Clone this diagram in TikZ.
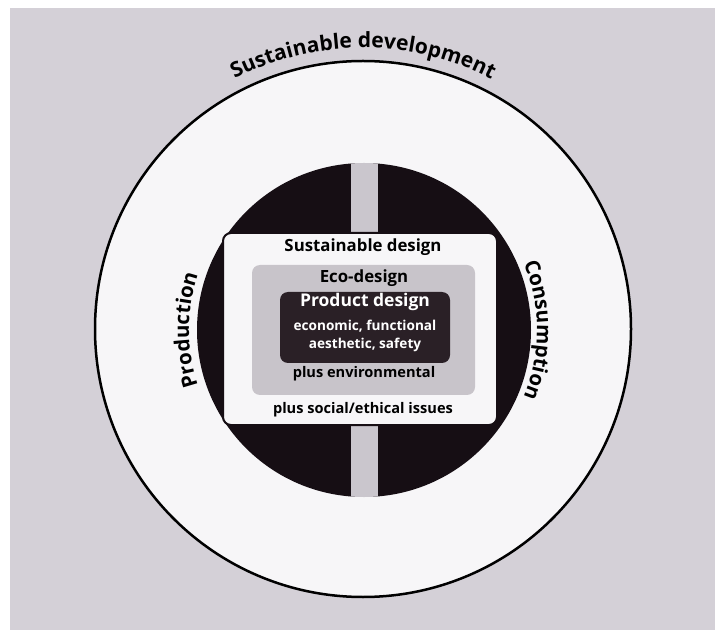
\documentclass[tikz,border=0pt]{standalone}
\usepackage{fontspec}
\setmainfont{Open Sans}
\usetikzlibrary{decorations.text}
\definecolor{pagegrey}{RGB}{212,208,215}
\definecolor{paper}{RGB}{247,246,248}
\definecolor{diskblack}{RGB}{22,14,20}
\definecolor{stripegrey}{RGB}{202,198,205}
\definecolor{ecogrey}{RGB}{200,196,202}
\definecolor{proddark}{RGB}{42,32,38}
\tikzset{
  layerbox/.style={rectangle, rounded corners=8pt, inner sep=0pt},
  lbl/.style={font=\bfseries\fontsize{16.8}{18}\selectfont, inner sep=0pt},
  smalllbl/.style={font=\bfseries\fontsize{14.6}{16}\selectfont, inner sep=0pt},
  whitelbl/.style={text=white, font=\bfseries\fontsize{13.6}{15}\selectfont, inner sep=0pt},
  ringtext/.style={decorate, decoration={text along path, text align=center}}
}
\begin{document}
\begin{tikzpicture}[x=1pt,y=1pt]
\useasboundingbox (0,0) rectangle (715,630);
\fill[white] (0,0) rectangle (715,630);
\fill[pagegrey] (10,0) rectangle (715,622);
\coordinate (C) at (363,301);
\coordinate (D) at (364,300);
\node[circle, draw=black, line width=2.5pt, fill=paper, minimum size=536pt, inner sep=0pt] (outer) at (C) {};
\node[circle, fill=diskblack, minimum size=334pt, inner sep=0pt] (disk) at (D) {};
\begin{scope}
  \clip (D) circle (167);
  \fill[stripegrey] (351,100) rectangle (378,500);
\end{scope}
\node[layerbox, fill=paper, draw=diskblack, line width=2pt, minimum width=274pt, minimum height=192pt] (sust) at (360,301) {};
\node[layerbox, fill=ecogrey, minimum width=223pt, minimum height=130pt] (eco) at (363.5,300) {};
\node[layerbox, fill=proddark, minimum width=170pt, minimum height=71pt] (prod) at (365,302.5) {};
\node[lbl] (t1) at (363,383) {Sustainable design};
\node[lbl] (t2) at (364,352) {Eco-design};
\node[lbl, text=white, font=\bfseries\fontsize{17.5}{19}\selectfont] (t3) at (365,328) {Product design};
\node[whitelbl] (t4) at (365,304) {economic, functional};
\node[whitelbl] (t5) at (365,285) {aesthetic, safety};
\node[smalllbl] (t6) at (364,256) {plus environmental};
\node[smalllbl] (t7) at (363,220) {plus social/ethical issues};
\path[ringtext, decoration={text={|\bfseries\fontsize{21}{23}\selectfont|Sustainable development}}]
  (C) ++(150:281) arc[start angle=150, end angle=30, radius=281];
\path[ringtext, decoration={text={|\bfseries\fontsize{20.5}{22}\selectfont|Production}}]
  (D) ++(230:175) arc[start angle=230, end angle=130, radius=175];
\path[ringtext, decoration={text={|\bfseries\fontsize{20.5}{22}\selectfont|Consumption}}]
  (D) ++(50:173) arc[start angle=50, end angle=-50, radius=173];
\end{tikzpicture}
\end{document}
